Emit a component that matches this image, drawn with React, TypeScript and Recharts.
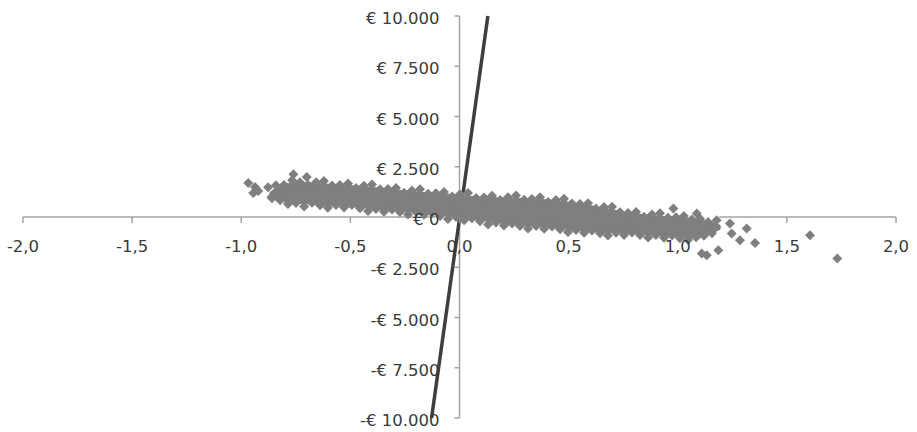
import React from 'react';
import { ComposedChart, XAxis, YAxis, Scatter, ReferenceLine, ReferenceDot } from 'recharts';

// ---- tick definitions ----
const xTicks = [-2, -1.5, -1, -0.5, 0, 0.5, 1, 1.5, 2];
const xTickLabels = ['-2,0', '-1,5', '-1,0', '-0,5', '0,0', '0,5', '1,0', '1,5', '2,0'];
const yTicks = [10000, 7500, 5000, 2500, 0, -2500, -5000, -7500, -10000];
const yTickLabels = ['€ 10.000', '€ 7.500', '€ 5.000', '€ 2.500', '€ 0', '-€ 2.500', '-€ 5.000', '-€ 7.500', '-€ 10.000'];

// ---- dense core of the point cloud (x, lower / upper value) ----
const coreX = [-0.868, -0.822, -0.731, -0.593, -0.456, -0.318, -0.181, -0.044, 0.094, 0.231, 0.369, 0.506, 0.644, 0.781, 0.919, 1.056, 1.148, 1.194];
const coreHigh = [1228, 1625, 1725, 1625, 1526, 1377, 1228, 1128, 979, 929, 880, 731, 482, 184, 35, -65, -214, -413];
const coreLow = [1029, 780, 681, 581, 482, 333, 234, 35, -164, -363, -462, -611, -760, -810, -910, -1059, -860, -611];

// ---- points along the upper edge of the cloud ----
const topEdge: [number, number][] = [
  [-0.841, 1575], [-0.804, 1595], [-0.767, 1834], [-0.731, 1725], [-0.694, 1600], [-0.657, 1725], [-0.621, 1794],
  [-0.584, 1571], [-0.548, 1590], [-0.511, 1665], [-0.474, 1441], [-0.438, 1556], [-0.401, 1615], [-0.364, 1377],
  [-0.328, 1387], [-0.291, 1446], [-0.254, 1208], [-0.218, 1317], [-0.181, 1377], [-0.144, 1153], [-0.108, 1178],
  [-0.071, 1247], [-0.034, 1019], [0.002, 1128], [0.039, 1188], [0.076, 949], [0.112, 974], [0.149, 1059],
  [0.186, 850], [0.222, 984], [0.259, 1069], [0.296, 855], [0.332, 895], [0.369, 979], [0.406, 741],
  [0.442, 850], [0.479, 910], [0.515, 666], [0.552, 646], [0.589, 681], [0.625, 417], [0.662, 492],
  [0.699, 512], [0.735, 234], [0.772, 204], [0.809, 253], [0.845, 15], [0.882, 124], [0.919, 184],
  [0.955, -40], [0.992, -15], [1.028, 55], [1.065, -129], [1.102, -89], [1.139, -249],
];

// ---- points along the lower edge of the cloud ----
const bottomEdge: [number, number][] = [
  [-0.859, 929], [-0.822, 830], [-0.786, 641], [-0.749, 701], [-0.712, 527], [-0.676, 706], [-0.639, 586],
  [-0.603, 462], [-0.566, 591], [-0.529, 467], [-0.493, 591], [-0.456, 432], [-0.419, 293], [-0.383, 403],
  [-0.346, 263], [-0.309, 378], [-0.273, 249], [-0.236, 124], [-0.199, 249], [-0.163, 109], [-0.126, 204],
  [-0.089, 50], [-0.053, -99], [-0.016, -5], [0.021, -159], [0.057, -65], [0.094, -214], [0.131, -368],
  [0.167, -268], [0.204, -422], [0.241, -318], [0.277, -447], [0.314, -572], [0.351, -447], [0.388, -581],
  [0.424, -472], [0.461, -611], [0.497, -750], [0.534, -641], [0.571, -780], [0.607, -671], [0.644, -810],
  [0.680, -924], [0.717, -785], [0.754, -900], [0.790, -765], [0.827, -895], [0.864, -1019], [0.900, -895],
  [0.937, -1029], [0.974, -919], [1.010, -1059], [1.047, -1148], [1.084, -1009], [1.120, -934], [1.157, -810],
];

// ---- isolated points ----
const outliers: [number, number][] = [
  [-0.968, 1690], [-0.937, 1491], [-0.922, 1292], [-0.945, 1193], [-0.877, 1476], [-0.861, 994],
  [-0.761, 2122], [-0.700, 1988], [0.980, 417], [1.087, 169], [1.178, -164], [1.239, -328], [1.316, -577],
  [1.247, -825], [1.285, -1158], [1.354, -1292], [1.186, -1655], [1.110, -1819], [1.133, -1903],
  [1.606, -910], [1.731, -2068],
];

// ---- steep line: visible parts outside the cloud (the cloud is drawn over it) ----
const trendLowerPart: [number, number][] = [[-0.128, -10000], [0.0003, -60]];
const trendUpperPart: [number, number][] = [[0.0158, 1150], [0.13, 10000]];

// ---- axis lines: visible parts outside the cloud ----
const xAxisParts: [number, number][][] = [[[-2, 0], [-0.09, 0]], [[1.19, 0], [2, 0]]];
const yAxisParts: [number, number][][] = [[[0, 10000], [0, 1350]], [[0, -80], [0, -10000]]];

const MARK = '#7f7f7f';
const AXIS = '#a3a3a3';
const TEXT = '#3a3a3a';
const FONT = '"DejaVu Sans", Verdana, sans-serif';
const FS = 16.5;

const toPts = (arr: [number, number][]) => arr.map(([x, y]) => ({ x, y }));
// outline of the dense core: upper boundary left->right, then lower boundary right->left
const coreOutline = [
  ...coreX.map((x, i) => ({ x, y: coreHigh[i] })),
  ...coreX.map((x, i) => ({ x, y: coreLow[i] })).reverse(),
];

const Diamond = (p: any) => {
  const { cx, cy } = p;
  if (cx == null || cy == null) return <g />;
  return <path d={`M${cx},${cy - 5}L${cx + 5},${cy}L${cx},${cy + 5}L${cx - 5},${cy}Z`} fill={MARK} />;
};

const NoShape = () => <g />;

const CoreFill = (props: any) => {
  const pts: { x: number; y: number }[] = (props.points || []).filter((q: any) => q && q.x != null && q.y != null);
  if (!pts.length) return <g />;
  const d = pts.map((q, i) => `${i === 0 ? 'M' : 'L'}${q.x},${q.y}`).join('') + 'Z';
  return <path d={d} fill={MARK} stroke={MARK} strokeWidth={1} />;
};

export default function App() {
  return (
    <div style={{ position: 'absolute', left: 0, top: 0, width: 917, height: 432, background: '#fff' }}>
      <ComposedChart width={917} height={432} margin={{ top: 16, right: 21, bottom: 14, left: 23 }}>
        <XAxis type="number" dataKey="x" domain={[-2, 2]} allowDataOverflow hide />
        <YAxis type="number" dataKey="y" domain={[-10000, 10000]} allowDataOverflow hide />

        {xAxisParts.map((seg, i) => (
          <ReferenceLine key={`xa${i}`} segment={toPts(seg)} stroke={AXIS} strokeWidth={1.5} />
        ))}
        {yAxisParts.map((seg, i) => (
          <ReferenceLine key={`ya${i}`} segment={toPts(seg)} stroke={AXIS} strokeWidth={1.5} />
        ))}

        {xTicks.map((t, i) => (
          <ReferenceDot
            key={`xt${i}`}
            x={t}
            y={0}
            r={0}
            shape={(p: any) => (
              <line x1={p.cx} y1={p.cy} x2={p.cx} y2={p.cy + 6} stroke={AXIS} strokeWidth={1.5} />
            )}
          />
        ))}
        {yTicks.map((t, i) => (
          <ReferenceDot
            key={`yt${i}`}
            x={0}
            y={t}
            r={0}
            shape={(p: any) => (
              <line x1={p.cx - 5} y1={p.cy} x2={p.cx} y2={p.cy} stroke={AXIS} strokeWidth={1.5} />
            )}
          />
        ))}

        <ReferenceLine segment={toPts(trendLowerPart)} stroke="#3e3e3e" strokeWidth={3.5} />
        <ReferenceLine segment={toPts(trendUpperPart)} stroke="#3e3e3e" strokeWidth={3.5} />

        <Scatter data={coreOutline} line={CoreFill} shape={NoShape} fill={MARK} isAnimationActive={false} />
        <Scatter data={toPts(topEdge)} shape={Diamond} fill={MARK} isAnimationActive={false} />
        <Scatter data={toPts(bottomEdge)} shape={Diamond} fill={MARK} isAnimationActive={false} />
        <Scatter data={toPts(outliers)} shape={Diamond} fill={MARK} isAnimationActive={false} />

        {xTicks.map((t, i) => (
          <ReferenceDot
            key={`xl${i}`}
            x={t}
            y={0}
            r={0}
            shape={(p: any) => (
              <text x={p.cx} y={p.cy + 35} textAnchor="middle" fill={TEXT} fontSize={FS} fontFamily={FONT}>
                {xTickLabels[i]}
              </text>
            )}
          />
        ))}
        {yTicks.map((t, i) => (
          <ReferenceDot
            key={`yl${i}`}
            x={0}
            y={t}
            r={0}
            shape={(p: any) => (
              <text x={p.cx - 20} y={p.cy + 8} textAnchor="end" fill={TEXT} fontSize={FS} fontFamily={FONT}>
                {yTickLabels[i]}
              </text>
            )}
          />
        ))}
      </ComposedChart>
    </div>
  );
}
